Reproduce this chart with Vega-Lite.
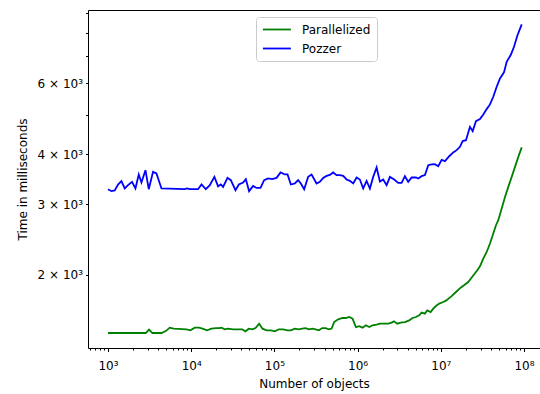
{
  "$schema": "https://vega.github.io/schema/vega-lite/v6.json",
  "width": 452,
  "height": 338,
  "autosize": {"type": "none"},
  "padding": {"left": 88, "top": 10, "right": 0, "bottom": 46},
  "background": "white",
  "config": {
    "view": {"stroke": null},
    "font": "DejaVu Sans",
    "axis": {"labelFont": "DejaVu Sans", "titleFont": "DejaVu Sans", "labelColor": "black", "titleColor": "black", "domainColor": "black", "tickColor": "black", "labelFontSize": 12, "titleFontSize": 12, "titleFontWeight": "normal", "domainWidth": 1, "tickWidth": 1}
  },
  "datasets": {
    "runs": [
      {"n": 1000, "ms": 3270, "series": "Pozzer"},
      {"n": 1099, "ms": 3233, "series": "Pozzer"},
      {"n": 1204, "ms": 3246, "series": "Pozzer"},
      {"n": 1319, "ms": 3359, "series": "Pozzer"},
      {"n": 1449, "ms": 3424, "series": "Pozzer"},
      {"n": 1588, "ms": 3283, "series": "Pozzer"},
      {"n": 1740, "ms": 3346, "series": "Pozzer"},
      {"n": 1944, "ms": 3410, "series": "Pozzer"},
      {"n": 2136, "ms": 3283, "series": "Pozzer"},
      {"n": 2341, "ms": 3558, "series": "Pozzer"},
      {"n": 2522, "ms": 3398, "series": "Pozzer"},
      {"n": 2818, "ms": 3647, "series": "Pozzer"},
      {"n": 3087, "ms": 3270, "series": "Pozzer"},
      {"n": 3477, "ms": 3611, "series": "Pozzer"},
      {"n": 3821, "ms": 3578, "series": "Pozzer"},
      {"n": 4389, "ms": 3283, "series": "Pozzer"},
      {"n": 8366, "ms": 3270, "series": "Pozzer"},
      {"n": 8917, "ms": 3283, "series": "Pozzer"},
      {"n": 9610, "ms": 3270, "series": "Pozzer"},
      {"n": 12090, "ms": 3270, "series": "Pozzer"},
      {"n": 13290, "ms": 3359, "series": "Pozzer"},
      {"n": 14970, "ms": 3270, "series": "Pozzer"},
      {"n": 16720, "ms": 3346, "series": "Pozzer"},
      {"n": 18990, "ms": 3509, "series": "Pozzer"},
      {"n": 21040, "ms": 3325, "series": "Pozzer"},
      {"n": 22680, "ms": 3359, "series": "Pozzer"},
      {"n": 24170, "ms": 3313, "series": "Pozzer"},
      {"n": 27300, "ms": 3489, "series": "Pozzer"},
      {"n": 29920, "ms": 3443, "series": "Pozzer"},
      {"n": 34070, "ms": 3251, "series": "Pozzer"},
      {"n": 37340, "ms": 3359, "series": "Pozzer"},
      {"n": 42050, "ms": 3398, "series": "Pozzer"},
      {"n": 45330, "ms": 3463, "series": "Pozzer"},
      {"n": 49650, "ms": 3233, "series": "Pozzer"},
      {"n": 55470, "ms": 3332, "series": "Pozzer"},
      {"n": 60950, "ms": 3294, "series": "Pozzer"},
      {"n": 68100, "ms": 3294, "series": "Pozzer"},
      {"n": 75220, "ms": 3443, "series": "Pozzer"},
      {"n": 84040, "ms": 3477, "series": "Pozzer"},
      {"n": 93890, "ms": 3463, "series": "Pozzer"},
      {"n": 106100, "ms": 3489, "series": "Pozzer"},
      {"n": 118500, "ms": 3599, "series": "Pozzer"},
      {"n": 133500, "ms": 3558, "series": "Pozzer"},
      {"n": 143800, "ms": 3558, "series": "Pozzer"},
      {"n": 157600, "ms": 3359, "series": "Pozzer"},
      {"n": 176100, "ms": 3379, "series": "Pozzer"},
      {"n": 192900, "ms": 3443, "series": "Pozzer"},
      {"n": 207900, "ms": 3379, "series": "Pozzer"},
      {"n": 227800, "ms": 3270, "series": "Pozzer"},
      {"n": 254400, "ms": 3509, "series": "Pozzer"},
      {"n": 279600, "ms": 3558, "series": "Pozzer"},
      {"n": 321100, "ms": 3379, "series": "Pozzer"},
      {"n": 351800, "ms": 3410, "series": "Pozzer"},
      {"n": 385500, "ms": 3489, "series": "Pozzer"},
      {"n": 423600, "ms": 3529, "series": "Pozzer"},
      {"n": 464100, "ms": 3550, "series": "Pozzer"},
      {"n": 508500, "ms": 3599, "series": "Pozzer"},
      {"n": 558800, "ms": 3544, "series": "Pozzer"},
      {"n": 612200, "ms": 3544, "series": "Pozzer"},
      {"n": 670900, "ms": 3529, "series": "Pozzer"},
      {"n": 737000, "ms": 3457, "series": "Pozzer"},
      {"n": 807600, "ms": 3429, "series": "Pozzer"},
      {"n": 885100, "ms": 3379, "series": "Pozzer"},
      {"n": 972300, "ms": 3497, "series": "Pozzer"},
      {"n": 1065000, "ms": 3457, "series": "Pozzer"},
      {"n": 1167000, "ms": 3283, "series": "Pozzer"},
      {"n": 1283000, "ms": 3429, "series": "Pozzer"},
      {"n": 1405000, "ms": 3283, "series": "Pozzer"},
      {"n": 1539000, "ms": 3509, "series": "Pozzer"},
      {"n": 1692000, "ms": 3704, "series": "Pozzer"},
      {"n": 1854000, "ms": 3415, "series": "Pozzer"},
      {"n": 2031000, "ms": 3457, "series": "Pozzer"},
      {"n": 2232000, "ms": 3346, "series": "Pozzer"},
      {"n": 2445000, "ms": 3509, "series": "Pozzer"},
      {"n": 2754000, "ms": 3457, "series": "Pozzer"},
      {"n": 3077000, "ms": 3390, "series": "Pozzer"},
      {"n": 3381000, "ms": 3390, "series": "Pozzer"},
      {"n": 3705000, "ms": 3523, "series": "Pozzer"},
      {"n": 4060000, "ms": 3410, "series": "Pozzer"},
      {"n": 4460000, "ms": 3497, "series": "Pozzer"},
      {"n": 5023000, "ms": 3497, "series": "Pozzer"},
      {"n": 5354000, "ms": 3477, "series": "Pozzer"},
      {"n": 5882000, "ms": 3523, "series": "Pozzer"},
      {"n": 6446000, "ms": 3544, "series": "Pozzer"},
      {"n": 7063000, "ms": 3753, "series": "Pozzer"},
      {"n": 7760000, "ms": 3768, "series": "Pozzer"},
      {"n": 8503000, "ms": 3775, "series": "Pozzer"},
      {"n": 9316000, "ms": 3731, "series": "Pozzer"},
      {"n": 10240000, "ms": 3870, "series": "Pozzer"},
      {"n": 11220000, "ms": 3840, "series": "Pozzer"},
      {"n": 12630000, "ms": 3950, "series": "Pozzer"},
      {"n": 14110000, "ms": 4037, "series": "Pozzer"},
      {"n": 15510000, "ms": 4091, "series": "Pozzer"},
      {"n": 17000000, "ms": 4169, "series": "Pozzer"},
      {"n": 18310000, "ms": 4308, "series": "Pozzer"},
      {"n": 20060000, "ms": 4332, "series": "Pozzer"},
      {"n": 22410000, "ms": 4676, "series": "Pozzer"},
      {"n": 24150000, "ms": 4562, "series": "Pozzer"},
      {"n": 26470000, "ms": 4832, "series": "Pozzer"},
      {"n": 29570000, "ms": 4888, "series": "Pozzer"},
      {"n": 32390000, "ms": 5021, "series": "Pozzer"},
      {"n": 35600000, "ms": 5176, "series": "Pozzer"},
      {"n": 39000000, "ms": 5318, "series": "Pozzer"},
      {"n": 42730000, "ms": 5555, "series": "Pozzer"},
      {"n": 46960000, "ms": 5884, "series": "Pozzer"},
      {"n": 51450000, "ms": 6174, "series": "Pozzer"},
      {"n": 57460000, "ms": 6391, "series": "Pozzer"},
      {"n": 61940000, "ms": 6792, "series": "Pozzer"},
      {"n": 69210000, "ms": 7058, "series": "Pozzer"},
      {"n": 75830000, "ms": 7403, "series": "Pozzer"},
      {"n": 83090000, "ms": 7885, "series": "Pozzer"},
      {"n": 93850000, "ms": 8419, "series": "Pozzer"},
      {"n": 1000, "ms": 1433, "series": "Parallelized"},
      {"n": 2842, "ms": 1433, "series": "Parallelized"},
      {"n": 3112, "ms": 1461, "series": "Parallelized"},
      {"n": 3420, "ms": 1433, "series": "Parallelized"},
      {"n": 4389, "ms": 1433, "series": "Parallelized"},
      {"n": 4943, "ms": 1449, "series": "Parallelized"},
      {"n": 5522, "ms": 1478, "series": "Parallelized"},
      {"n": 6169, "ms": 1469, "series": "Parallelized"},
      {"n": 8770, "ms": 1464, "series": "Parallelized"},
      {"n": 9797, "ms": 1455, "series": "Parallelized"},
      {"n": 11030, "ms": 1478, "series": "Parallelized"},
      {"n": 12430, "ms": 1478, "series": "Parallelized"},
      {"n": 13660, "ms": 1469, "series": "Parallelized"},
      {"n": 15510, "ms": 1455, "series": "Parallelized"},
      {"n": 17530, "ms": 1469, "series": "Parallelized"},
      {"n": 19740, "ms": 1474, "series": "Parallelized"},
      {"n": 21630, "ms": 1474, "series": "Parallelized"},
      {"n": 23120, "ms": 1478, "series": "Parallelized"},
      {"n": 25330, "ms": 1464, "series": "Parallelized"},
      {"n": 27760, "ms": 1469, "series": "Parallelized"},
      {"n": 31880, "ms": 1464, "series": "Parallelized"},
      {"n": 36610, "ms": 1464, "series": "Parallelized"},
      {"n": 40910, "ms": 1464, "series": "Parallelized"},
      {"n": 44950, "ms": 1447, "series": "Parallelized"},
      {"n": 49250, "ms": 1469, "series": "Parallelized"},
      {"n": 53950, "ms": 1464, "series": "Parallelized"},
      {"n": 59280, "ms": 1474, "series": "Parallelized"},
      {"n": 65520, "ms": 1512, "series": "Parallelized"},
      {"n": 71970, "ms": 1469, "series": "Parallelized"},
      {"n": 80390, "ms": 1455, "series": "Parallelized"},
      {"n": 90570, "ms": 1455, "series": "Parallelized"},
      {"n": 101200, "ms": 1447, "series": "Parallelized"},
      {"n": 113000, "ms": 1464, "series": "Parallelized"},
      {"n": 127300, "ms": 1464, "series": "Parallelized"},
      {"n": 143800, "ms": 1455, "series": "Parallelized"},
      {"n": 157600, "ms": 1455, "series": "Parallelized"},
      {"n": 176100, "ms": 1469, "series": "Parallelized"},
      {"n": 196700, "ms": 1464, "series": "Parallelized"},
      {"n": 215500, "ms": 1469, "series": "Parallelized"},
      {"n": 236800, "ms": 1474, "series": "Parallelized"},
      {"n": 259400, "ms": 1464, "series": "Parallelized"},
      {"n": 287400, "ms": 1469, "series": "Parallelized"},
      {"n": 312300, "ms": 1464, "series": "Parallelized"},
      {"n": 342200, "ms": 1455, "series": "Parallelized"},
      {"n": 375000, "ms": 1474, "series": "Parallelized"},
      {"n": 412000, "ms": 1474, "series": "Parallelized"},
      {"n": 451400, "ms": 1464, "series": "Parallelized"},
      {"n": 486600, "ms": 1470, "series": "Parallelized"},
      {"n": 522700, "ms": 1526, "series": "Parallelized"},
      {"n": 584100, "ms": 1550, "series": "Parallelized"},
      {"n": 659600, "ms": 1562, "series": "Parallelized"},
      {"n": 722800, "ms": 1562, "series": "Parallelized"},
      {"n": 791800, "ms": 1571, "series": "Parallelized"},
      {"n": 870100, "ms": 1556, "series": "Parallelized"},
      {"n": 953500, "ms": 1483, "series": "Parallelized"},
      {"n": 1045000, "ms": 1491, "series": "Parallelized"},
      {"n": 1148000, "ms": 1478, "series": "Parallelized"},
      {"n": 1257000, "ms": 1498, "series": "Parallelized"},
      {"n": 1378000, "ms": 1483, "series": "Parallelized"},
      {"n": 1514000, "ms": 1498, "series": "Parallelized"},
      {"n": 1692000, "ms": 1504, "series": "Parallelized"},
      {"n": 1854000, "ms": 1512, "series": "Parallelized"},
      {"n": 2070000, "ms": 1512, "series": "Parallelized"},
      {"n": 2333000, "ms": 1512, "series": "Parallelized"},
      {"n": 2563000, "ms": 1521, "series": "Parallelized"},
      {"n": 2732000, "ms": 1532, "series": "Parallelized"},
      {"n": 2994000, "ms": 1512, "series": "Parallelized"},
      {"n": 3289000, "ms": 1521, "series": "Parallelized"},
      {"n": 3705000, "ms": 1526, "series": "Parallelized"},
      {"n": 4173000, "ms": 1541, "series": "Parallelized"},
      {"n": 4585000, "ms": 1562, "series": "Parallelized"},
      {"n": 5023000, "ms": 1571, "series": "Parallelized"},
      {"n": 5504000, "ms": 1586, "series": "Parallelized"},
      {"n": 5882000, "ms": 1611, "series": "Parallelized"},
      {"n": 6446000, "ms": 1602, "series": "Parallelized"},
      {"n": 6869000, "ms": 1632, "series": "Parallelized"},
      {"n": 7547000, "ms": 1616, "series": "Parallelized"},
      {"n": 8110000, "ms": 1648, "series": "Parallelized"},
      {"n": 8740000, "ms": 1673, "series": "Parallelized"},
      {"n": 9576000, "ms": 1696, "series": "Parallelized"},
      {"n": 10520000, "ms": 1710, "series": "Parallelized"},
      {"n": 11530000, "ms": 1725, "series": "Parallelized"},
      {"n": 13500000, "ms": 1770, "series": "Parallelized"},
      {"n": 15210000, "ms": 1813, "series": "Parallelized"},
      {"n": 17330000, "ms": 1859, "series": "Parallelized"},
      {"n": 18980000, "ms": 1884, "series": "Parallelized"},
      {"n": 21380000, "ms": 1920, "series": "Parallelized"},
      {"n": 24150000, "ms": 1984, "series": "Parallelized"},
      {"n": 27440000, "ms": 2054, "series": "Parallelized"},
      {"n": 29570000, "ms": 2101, "series": "Parallelized"},
      {"n": 32390000, "ms": 2196, "series": "Parallelized"},
      {"n": 35600000, "ms": 2281, "series": "Parallelized"},
      {"n": 39000000, "ms": 2394, "series": "Parallelized"},
      {"n": 42730000, "ms": 2535, "series": "Parallelized"},
      {"n": 46060000, "ms": 2659, "series": "Parallelized"},
      {"n": 49090000, "ms": 2737, "series": "Parallelized"},
      {"n": 53950000, "ms": 2927, "series": "Parallelized"},
      {"n": 59110000, "ms": 3128, "series": "Parallelized"},
      {"n": 64730000, "ms": 3313, "series": "Parallelized"},
      {"n": 71150000, "ms": 3509, "series": "Parallelized"},
      {"n": 77960000, "ms": 3717, "series": "Parallelized"},
      {"n": 85420000, "ms": 3936, "series": "Parallelized"},
      {"n": 93850000, "ms": 4155, "series": "Parallelized"}
    ]
  },
  "data": {"name": "runs"},
  "mark": {"type": "line", "strokeWidth": 1.8, "clip": true},
  "encoding": {
    "x": {
      "field": "n",
      "type": "quantitative",
      "scale": {"type": "log", "domain": [574.6, 155700000], "nice": false, "zero": false},
      "axis": {
        "title": "Number of objects",
        "values": [600, 700, 800, 900, 1000, 2000, 3000, 4000, 5000, 6000, 7000, 8000, 9000, 10000, 20000, 30000, 40000, 50000, 60000, 70000, 80000, 90000, 100000, 200000, 300000, 400000, 500000, 600000, 700000, 800000, 900000, 1000000, 2000000, 3000000, 4000000, 5000000, 6000000, 7000000, 8000000, 9000000, 10000000, 20000000, 30000000, 40000000, 50000000, 60000000, 70000000, 80000000, 90000000, 100000000],
        "labelExpr": "abs(log(datum.value)/LN10 - round(log(datum.value)/LN10)) < 0.001 ? '10' + ['⁰','¹','²','³','⁴','⁵','⁶','⁷','⁸','⁹'][round(log(datum.value)/LN10)] : ''",
        "tickSize": {"condition": {"test": "abs(log(datum.value)/LN10 - round(log(datum.value)/LN10)) < 0.001", "value": 3.5}, "value": 2},
        "labelPadding": 9,
        "labelFontSize": 12,
        "labelFlush": false,
        "labelOverlap": false,
        "grid": false,
        "titlePadding": 7
      }
    },
    "y": {
      "field": "ms",
      "type": "quantitative",
      "scale": {"type": "log", "domain": [1315, 9139], "nice": false, "zero": false},
      "axis": {
        "title": "Time in milliseconds",
        "values": [2000, 3000, 4000, 5000, 6000, 7000, 8000, 9000, 9139],
        "labelExpr": "indexof([2000, 3000, 4000, 6000], datum.value) >= 0 ? (datum.value / 1000) + ' × 10³' : ''",
        "tickSize": {"condition": {"test": "datum.value > 9100", "value": 0}, "value": 2.5},
        "grid": true,
        "gridColor": {"condition": {"test": "datum.value > 9100", "value": "black"}, "value": "transparent"},
        "gridWidth": 1,
        "labelPadding": 3,
        "labelFlush": false,
        "labelOverlap": false,
        "titlePadding": 8
      }
    },
    "color": {
      "field": "series",
      "type": "nominal",
      "scale": {"domain": ["Parallelized", "Pozzer"], "range": ["#008000", "#0000ff"]},
      "legend": {
        "title": null,
        "orient": "none",
        "legendX": 168,
        "legendY": 7,
        "symbolType": "M-1,0H4",
        "symbolSize": 125,
        "symbolStrokeWidth": 1.8,
        "labelFont": "DejaVu Sans",
        "labelFontSize": 12,
        "labelColor": "black",
        "labelOffset": 27,
        "padding": 6,
        "rowPadding": 6,
        "strokeColor": "#cccccc",
        "fillColor": "white",
        "cornerRadius": 3
      }
    }
  }
}
